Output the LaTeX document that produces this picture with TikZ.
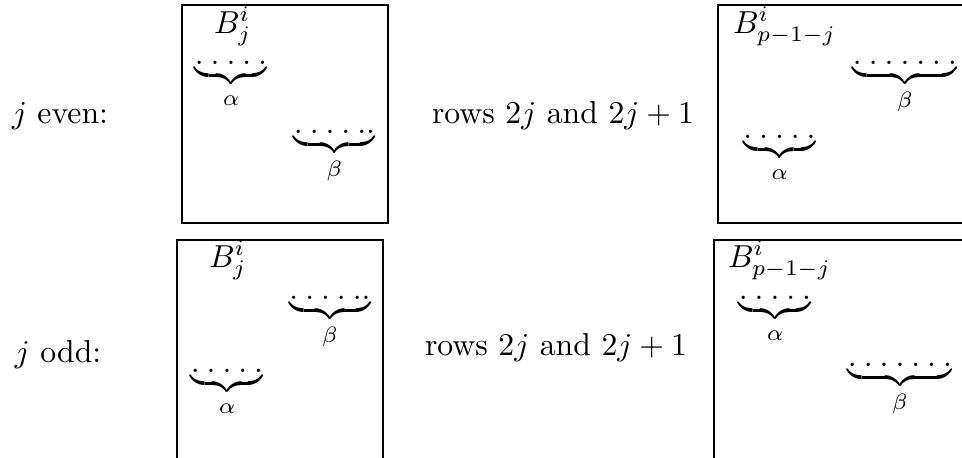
\documentclass[tikz,border=0pt]{standalone}
\begin{document}
\begin{tikzpicture}[x=0.315pt,y=-0.315pt,
  boxline/.style={line width=0.75pt},
  lbl/.style={inner sep=0pt,outer sep=0pt,anchor=base west},
  brc/.style={inner sep=0pt,outer sep=0pt,anchor=base}]
\useasboundingbox (0,0) rectangle (962,457);
\clip (0,0) rectangle (962,457);
% boxes
\draw[boxline] (182,5) rectangle (388,223);
\draw[boxline] (718,5) rectangle (990,223);
\draw[boxline] (177,240) rectangle (383,480);
\draw[boxline] (714,240) rectangle (990,480);
% row labels
\node[lbl] (jeven) at (12,123) {$j$ even:};
\node[lbl] (jodd) at (15,362) {$j$ odd:};
\node[lbl] (rowsA) at (432,123) {rows $2j$ and $2j+1$};
\node[lbl] (rowsB) at (425,355) {rows $2j$ and $2j+1$};
% block names
\node[lbl] (bA) at (214,33) {$B^i_j$};
\node[lbl] (bB) at (733,33) {$B^i_{p-1-j}$};
\node[lbl] (bC) at (209,267) {$B^i_j$};
\node[lbl] (bD) at (728,267) {$B^i_{p-1-j}$};
% braces, top row
\node[brc] (aA) at (231,64) {$\underbrace{.\:.\:.\:.\:.}_{\alpha}$};
\node[brc] (betaA) at (334.5,133) {$\underbrace{.\:.\:.\:.\:..}_{\beta}$};
\node[brc] (betaB) at (905,64) {$\underbrace{.\:.\:.\:.\:.\:.\:.}_{\beta}$};
\node[brc] (aB) at (779.5,138) {$\underbrace{.\:.\:.\:.\:.}_{\alpha}$};
% braces, bottom row
\node[brc] (betaC) at (330,299) {$\underbrace{.\:.\:.\:.\:..}_{\beta}$};
\node[brc] (aC) at (227,372) {$\underbrace{.\:.\:.\:.\:.}_{\alpha}$};
\node[brc] (aD) at (775,299) {$\underbrace{.\:.\:.\:.\:.}_{\alpha}$};
\node[brc] (betaD) at (900,366) {$\underbrace{.\:.\:.\:.\:.\:.\:.}_{\beta}$};
\end{tikzpicture}
\end{document}
